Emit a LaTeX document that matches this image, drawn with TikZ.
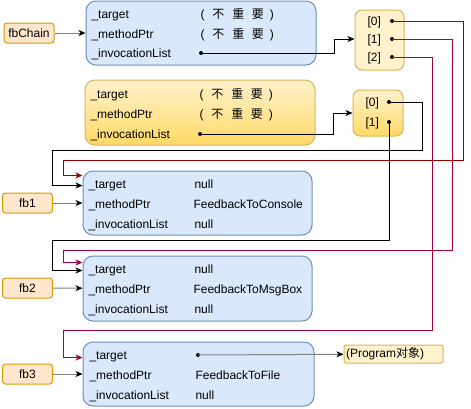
\documentclass[tikz,border=0pt]{standalone}
\usepackage{fontspec}
\setmainfont{Liberation Sans}
\newfontfamily\cjk{Noto Sans CJK SC}
\usetikzlibrary{arrows.meta}

\definecolor{objfill}{HTML}{DAE8FC}
\definecolor{objdraw}{HTML}{6C8EBF}
\definecolor{listfill}{HTML}{FFF2CC}
\definecolor{listdeep}{HTML}{FFD966}
\definecolor{listdraw}{HTML}{D6B656}
\definecolor{varfill}{HTML}{FFE6CC}
\definecolor{vardraw}{HTML}{D79B00}
\definecolor{linkdark}{HTML}{990000}
\definecolor{linkred}{HTML}{A50040}

\newcommand{\notimportant}{(\hspace{8pt}{\cjk 不}\hspace{8pt}{\cjk 重}\hspace{7.5pt}{\cjk 要}\hspace{6pt})}

\begin{document}
\begin{tikzpicture}[x=1pt,y=-1pt,line width=1pt,
    font=\fontsize{12}{14}\selectfont,
    obj/.style={draw=objdraw,fill=objfill,rounded corners=10pt,inner sep=0pt},
    list/.style={draw=listdraw,rounded corners=7pt,inner sep=0pt},
    var/.style={draw=vardraw,fill=varfill,rounded corners=3pt,minimum width=50pt,minimum height=20pt,inner sep=0pt},
    field/.style={anchor=west,inner sep=0pt,text height=8.5pt,text depth=0pt},
    link/.style={-{Stealth[length=7pt,width=6pt,inset=2pt]}},
    ptr/.style={draw=gray,-{Stealth[length=7pt,width=6pt,inset=2pt,color=black]}}]
  \useasboundingbox (0,0) rectangle (471,408);

  % Variables
  \node[var] (fbChain) at (29,33) {fbChain};
  \node[var] (fb1) at (27.5,203) {fb1};
  \node[var] (fb2) at (27.5,288) {fb2};
  \node[var] (fb3) at (27.5,374) {fb3};

  % Delegate objects
  \node[obj,minimum width=230pt,minimum height=64pt] (chain) at (201,33) {};
  \node[list,rounded corners=10pt,top color=listfill,bottom color=listdeep,minimum width=230pt,minimum height=65pt] (mid) at (200,112.5) {};
  \node[obj,minimum width=229pt,minimum height=64pt] (obj1) at (197.5,203) {};
  \node[obj,minimum width=229pt,minimum height=65pt] (obj2) at (197.5,288.5) {};
  \node[obj,minimum width=231pt,minimum height=64pt] (obj3) at (198.5,374) {};

  % Invocation lists
  \node[list,fill=listfill,minimum width=49pt,minimum height=60pt] (listA) at (379.5,40) {};
  \node[list,top color=listfill,bottom color=listdeep,minimum width=50pt,minimum height=46pt] (listB) at (378,113) {};
  \node[list,fill=listfill,rounded corners=2pt,minimum width=99pt,minimum height=18pt,text width=95pt,inner sep=2pt,align=left] (prog) at (393.5,354) {(Program{\cjk 对象})};

  % Fields
  \node[field] (chainT) at (91,14) {\_target};
  \node[field] (chainTv) at (200,14) {\notimportant};
  \node[field] (chainM) at (91,34) {\_methodPtr};
  \node[field] (chainMv) at (200,34) {\notimportant};
  \node[field] (chainI) at (91,53) {\_invocationList};

  \node[field] (midT) at (90,94) {\_target};
  \node[field] (midTv) at (199,94) {\notimportant};
  \node[field] (midM) at (90,114) {\_methodPtr};
  \node[field] (midMv) at (199,114) {\notimportant};
  \node[field] (midI) at (90,134) {\_invocationList};

  \node[field] (t1) at (88,184) {\_target};
  \node[field] (t1v) at (194,184) {null};
  \node[field] (m1) at (88,204) {\_methodPtr};
  \node[field] (m1v) at (193,204) {FeedbackToConsole};
  \node[field] (i1) at (88,224) {\_invocationList};
  \node[field] (i1v) at (194,224) {null};

  \node[field] (t2) at (88,269) {\_target};
  \node[field] (t2v) at (194,269) {null};
  \node[field] (m2) at (88,289) {\_methodPtr};
  \node[field] (m2v) at (193,289) {FeedbackToMsgBox};
  \node[field] (i2) at (88,309) {\_invocationList};
  \node[field] (i2v) at (194,309) {null};

  \node[field] (t3) at (89,355) {\_target};
  \node[field] (m3) at (89,375) {\_methodPtr};
  \node[field] (m3v) at (195,375) {FeedbackToFile};
  \node[field] (i3) at (89,395) {\_invocationList};
  \node[field] (i3v) at (195,395) {null};

  % List entries
  \node[field] (a0) at (367,21) {[0]};
  \node[field] (a1) at (367,39) {[1]};
  \node[field] (a2) at (367,57) {[2]};
  \node[field] (b0) at (365,102) {[0]};
  \node[field] (b1) at (365,122) {[1]};

  % Pointers
  \coordinate (chainP) at (201,53);
  \coordinate (midP) at (200,134);
  \coordinate (a0P) at (392,21);
  \coordinate (a1P) at (392,39);
  \coordinate (a2P) at (392,57);
  \coordinate (b0P) at (389,102);
  \coordinate (b1P) at (389,122);
  \coordinate (t3P) at (198,355);

  \fill (chainP) circle (2pt);
  \fill (midP) circle (2pt);
  \fill (a0P) circle (2pt);
  \fill (a1P) circle (2pt);
  \fill (a2P) circle (2pt);
  \fill (b0P) circle (2pt);
  \fill (b1P) circle (2pt);
  \fill (t3P) circle (2pt);

  \draw[ptr] (fbChain) -- (chain);
  \draw[ptr] (fb1) -- (obj1);
  \draw[ptr] (fb2) -- (obj2);
  \draw[ptr] (fb3) -- (obj3);
  \draw[ptr] (t3P) -- (prog);

  \draw[link] (chainP) -- ++(133,0) |- (listA.west |- a1);
  \draw[link] (midP) -- ++(133,0) |- (listB.west);

  \draw[link,linkdark] (a0P) -- ++(71,0) |- (63,160) |- ([yshift=-5pt]obj1.north west);
  \draw[link,linkred] (a1P) -- ++(60,0) |- (63,250) |- ([yshift=-7pt]obj2.north west);
  \draw[link,linkred] (a2P) -- ++(40,0) |- (63,330) |- ([yshift=-16pt]obj3.north west);

  \draw[link] (b0P) -- ++(33,0) |- (52,150) |- ([yshift=-15pt]obj1.north west);
  \draw[link] (b1P) |- (52,240) |- ([yshift=-15pt]obj2.north west);
\end{tikzpicture}
\end{document}
